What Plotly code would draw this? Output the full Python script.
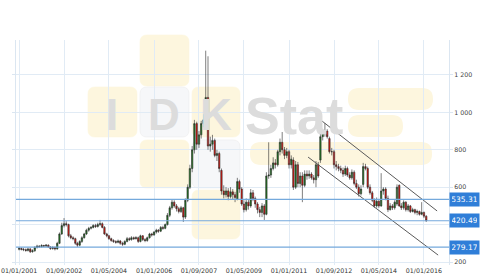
import pandas as pd
import plotly.graph_objects as go

# ---------------- data ----------------
start_month = "2001-01-01"

opens = [268,272,268,266,262,270,255,260,278,285,282,288,285,290,280,272,278,270,300,350,
         395,405,400,340,330,325,300,290,310,330,350,370,380,385,395,390,400,405,385,350,
         340,325,315,310,305,312,300,295,310,325,320,330,325,330,310,340,320,315,330,350,
         345,360,370,365,385,380,400,450,490,520,500,485,470,490,440,530,600,700,800,940,
         830,880,940,960,1080,820,830,850,770,780,690,580,560,580,550,575,560,535,630,590,
         510,480,520,500,570,540,510,480,465,500,455,660,665,700,730,720,790,840,800,770,
         790,720,745,600,720,620,660,610,670,660,670,650,640,720,745,870,890,900,860,790,
         790,720,710,700,690,670,700,665,650,680,620,600,565,615,710,700,600,570,530,500,
         525,500,580,590,540,480,500,490,510,610,500,490,520,480,500,470,480,465,470,455,
         465,445]
highs = [280,278,275,272,276,274,268,284,292,290,295,292,296,294,285,284,282,308,358,410,
         435,418,405,350,338,330,308,316,338,356,378,388,392,402,404,410,425,412,392,356,
         345,330,322,316,320,318,308,316,334,332,338,336,338,336,346,344,328,336,356,356,
         366,378,376,392,394,406,462,500,535,530,510,495,500,495,540,615,720,820,960,950,
         900,955,990,1330,1300,870,880,860,800,790,700,610,600,595,600,590,575,650,640,600,
         530,540,535,590,585,550,520,495,515,510,680,840,720,760,750,800,860,895,815,810,
         800,770,760,740,735,680,680,690,690,690,680,665,740,735,885,910,943,910,870,810,
         800,740,725,715,705,715,710,680,695,690,640,615,610,730,725,710,615,580,540,545,
         530,675,600,600,555,515,510,530,615,615,515,530,525,510,505,490,485,480,475,520,
         470,450]
lows = [262,262,258,255,256,248,250,255,272,276,278,280,280,276,265,266,262,266,296,345,
        385,390,332,322,316,292,280,284,302,325,344,362,374,380,382,384,392,380,345,332,
        318,308,302,298,300,292,286,290,305,312,314,318,320,302,305,312,306,308,325,336,
        340,352,356,360,372,375,395,440,480,490,470,460,462,414,430,520,590,680,780,800,
        810,860,920,940,800,790,800,760,740,680,560,540,545,530,540,535,520,530,570,500,
        465,470,480,490,525,490,460,440,440,425,450,645,650,690,700,710,770,780,750,755,
        700,700,585,590,600,600,520,600,640,645,640,620,600,650,730,850,870,860,780,770,
        700,690,685,675,655,660,655,640,640,610,590,550,555,600,690,590,560,520,490,490,
        490,495,560,530,467,475,478,480,500,495,478,480,470,470,462,465,455,450,448,450,
        435,415]
closes = [272,268,266,262,270,255,260,278,285,282,288,285,290,280,272,278,270,300,350,395,
          405,400,340,330,325,300,290,310,330,350,370,380,385,395,390,400,405,385,350,340,
          325,315,310,305,312,300,295,310,325,320,330,325,330,310,340,320,315,330,350,345,
          360,370,365,385,380,400,450,490,520,500,485,470,490,440,530,600,700,800,940,830,
          880,940,960,1080,820,830,850,770,780,700,580,560,580,550,575,560,545,630,590,510,
          480,520,500,570,540,510,480,465,500,455,660,665,700,730,720,790,840,800,770,790,
          720,750,600,720,620,660,610,670,660,670,650,640,720,660,870,890,900,870,790,790,
          720,710,700,690,670,700,665,650,680,620,600,565,590,710,700,600,570,530,500,525,
          500,580,590,540,480,500,490,520,600,500,490,520,480,500,470,480,465,470,455,465,
          445,420.49]

levels = [535.31, 420.49, 279.17]

upper_trend_x = ["2012-01-30", "2016-06-27"]
upper_trend_y = [970, 473]
lower_trend_x = ["2011-09-16", "2016-07-11"]
lower_trend_y = [761, 237]

x_tickvals = ["2001-01-01", "2002-09-01", "2004-05-01", "2006-01-01", "2007-09-01",
              "2009-05-01", "2011-01-01", "2012-09-01", "2014-05-01", "2016-01-01"]
x_ticktext = ["01/01/2001", "01/09/2002", "01/05/2004", "01/01/2006", "01/09/2007",
              "01/05/2009", "01/01/2011", "01/09/2012", "01/05/2014", "01/01/2016"]
# the 400 label is hidden behind the 420.49 marker in the reference
y_tickvals = [200, 400, 600, 800, 1000, 1200]
y_ticktext = ["200", "", "600", "800", "1 000", "1 200"]

dates = pd.date_range(start_month, periods=len(closes), freq="MS")

# ---------------- figure ----------------
W, H = 500, 280
L, R, T, B = 16, 449, 40, 265

def fx(x):
    return (x - L) / (R - L)

def fy(y):
    return (B - y) / (B - T)

def rrect(x0, y0, x1, y1, r):
    rx = r / (R - L)
    ry = r / (B - T)
    a, b, c, d = fx(x0), fy(y1), fx(x1), fy(y0)
    return (f"M{a+rx},{b} L{c-rx},{b} Q{c},{b} {c},{b+ry} L{c},{d-ry} Q{c},{d} {c-rx},{d} "
            f"L{a+rx},{d} Q{a},{d} {a},{d-ry} L{a},{b+ry} Q{a},{b} {a+rx},{b} Z")

fig = go.Figure()

fig.add_trace(go.Candlestick(
    x=dates, open=opens, high=highs, low=lows, close=closes,
    increasing=dict(fillcolor="#1f7a1f", line=dict(color="#2a2a2a", width=0.6)),
    decreasing=dict(fillcolor="#e8140c", line=dict(color="#2a2a2a", width=0.6)),
    whiskerwidth=0, hoverinfo="skip", showlegend=False,
))

for tx, ty in ((upper_trend_x, upper_trend_y), (lower_trend_x, lower_trend_y)):
    fig.add_trace(go.Scatter(x=tx, y=ty, mode="lines",
                             line=dict(color="#5a5a5a", width=1),
                             hoverinfo="skip", showlegend=False))

shapes = []
yellow = "#fdf6de"
greybox = "#f6f7f9"
for (x0, y0, x1, y1, col) in [
    (140, 35, 189, 86, yellow),
    (88, 87, 137, 137, yellow),
    (140, 87, 189, 137, greybox),
    (192, 87, 240, 137, yellow),
    (140, 140, 189, 188, yellow),
    (192, 140, 240, 188, greybox),
    (192, 190, 240, 239, yellow),
]:
    shapes.append(dict(type="path", path=rrect(x0, y0, x1, y1, 7), xref="paper", yref="paper",
                       fillcolor=col, line=dict(width=0.6, color="#ececec" if col == greybox else col),
                       layer="below"))
for (x0, y0, x1, y1) in [(348, 88, 433, 110), (348, 115, 403, 137), (250, 142, 432, 165)]:
    shapes.append(dict(type="path", path=rrect(x0, y0, x1, y1, 11), xref="paper", yref="paper",
                       fillcolor=yellow, line=dict(width=0), layer="below"))

for v in levels:
    shapes.append(dict(type="line", xref="paper", x0=0, x1=1, yref="y", y0=v, y1=v,
                       line=dict(color="#74a9dc", width=1.2), layer="above"))

annotations = []
wm_font = dict(family="Liberation Sans", size=44, color="#dcdcdc")
for txt, cx, cy in [("I", 112, 114), ("D", 164, 114), ("K", 216, 114)]:
    annotations.append(dict(text=f"<b>{txt}</b>", x=fx(cx), y=fy(cy), xref="paper", yref="paper",
                            xanchor="center", yanchor="middle", showarrow=False, font=wm_font))
annotations.append(dict(text="<b>Stat</b>", x=fx(243), y=fy(116), xref="paper", yref="paper",
                        xanchor="left", yanchor="middle", showarrow=False,
                        font=dict(family="Liberation Sans", size=52, color="#dcdcdc")))

for v in levels:
    annotations.append(dict(text=f"{v:.2f}", x=1, xref="paper", y=v, yref="y",
                            xanchor="left", yanchor="middle", showarrow=False,
                            bgcolor="#2f7ed8", borderpad=2, width=25,
                            font=dict(family="DejaVu Sans", size=7.5, color="white")))

grid = "#e1ebf5"
fig.update_layout(
    width=W, height=H,
    margin=dict(l=L, r=W - R, t=T, b=H - B),
    paper_bgcolor="white", plot_bgcolor="white",
    shapes=shapes, annotations=annotations,
    showlegend=False, hovermode=False, boxgap=0.05,
    font=dict(family="DejaVu Sans", size=6.3, color="#333333"),
    xaxis=dict(type="date", range=["2000-11-20", "2016-12-05"], automargin=False,
               tickvals=x_tickvals, ticktext=x_ticktext,
               showgrid=True, gridcolor=grid, gridwidth=1,
               rangeslider=dict(visible=False), showline=False, zeroline=False,
               ticks="", ticklabelstandoff=1,
               tickfont=dict(size=6.3, color="#333333")),
    yaxis=dict(side="right", range=[184, 1387], automargin=False,
               tickvals=y_tickvals, ticktext=y_ticktext,
               showgrid=True, gridcolor=grid, gridwidth=1, zeroline=False,
               showline=True, linecolor="#dbe6f1", mirror="ticks",
               ticks="outside", ticklen=3, tickcolor="#dbe6f1",
               tickfont=dict(size=6.3, color="#444444")),
)

fig.write_html("out.html")
